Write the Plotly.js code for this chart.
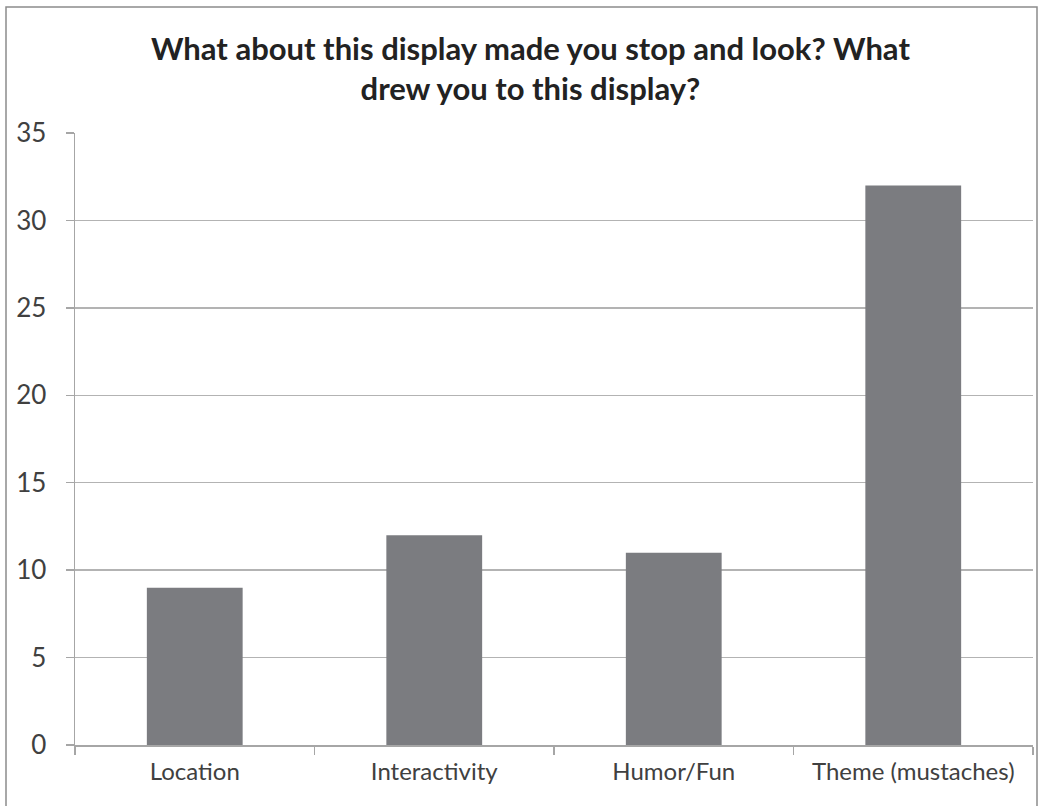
<!DOCTYPE html>
<html>
<head>
<meta charset="utf-8">
<script src="https://cdn.plot.ly/plotly-3.0.1.min.js"></script>
<style>html,body{margin:0;padding:0;background:#fff;}#chart{width:1042px;height:806px;}</style>
</head>
<body>
<div id="chart"></div>
<script>
const categories = ["Location", "Interactivity", "Humor/Fun", "Theme (mustaches)"];
const counts = [9, 12, 11, 32];
const yTicks = [0, 5, 10, 15, 20, 25, 30, 35];
const chartTitle = "What about this display made you stop and look? What<br>drew you to this display?";

const W = 1042, H = 806;
const plotL = 75, plotR = 1033, plotT = 133, plotB = 745;
const fy = v => (plotB - v) / (plotB - plotT);
const fx = v => (v - plotL) / (plotR - plotL);

const data = [{
  type: "bar",
  x: categories,
  y: counts,
  marker: {color: "#7b7c80", line: {width: 0}},
  hoverinfo: "skip"
}];

const layout = {
  width: W, height: H,
  paper_bgcolor: "#fff", plot_bgcolor: "#fff",
  margin: {l: plotL, r: W - plotR, t: plotT, b: H - plotB, pad: 0},
  showlegend: false,
  bargap: 0.6,
  font: {family: "Lato, 'Open Sans', sans-serif", color: "#404040"},
  xaxis: {
    type: "category",
    showgrid: false,
    showline: true, linecolor: "#a6a6a6", linewidth: 1.5,
    ticks: "outside", tickson: "boundaries", ticklen: 8, tickcolor: "#a6a6a6", tickwidth: 1.5,
    ticklabelstandoff: 5,
    tickfont: {size: 24, color: "#404040"},
    zeroline: false, fixedrange: true
  },
  yaxis: {
    range: [0, 35],
    tickvals: yTicks,
    showgrid: true, gridcolor: "#b3b3b3", gridwidth: 1.5,
    showline: true, linecolor: "#a6a6a6", linewidth: 1.5,
    ticks: "outside", ticklen: 8, tickcolor: "#a6a6a6", tickwidth: 1.5,
    ticklabelstandoff: 14,
    tickfont: {size: 26, color: "#404040"},
    zeroline: false, fixedrange: true
  },
  annotations: [{
    text: "<b>" + chartTitle.replace("<br>", "</b><br><b>") + "</b>",
    xref: "paper", yref: "paper",
    x: fx(530), y: fy(68), xanchor: "center", yanchor: "middle",
    showarrow: false,
    font: {family: "Lato, sans-serif", size: 31, color: "#222"}
  }],
  shapes: [{
    type: "rect", xref: "paper", yref: "paper",
    x0: fx(6), x1: fx(1037),
    y0: fy(812), y1: fy(7),
    line: {color: "#8c8c8c", width: 1.5}, fillcolor: "rgba(0,0,0,0)", layer: "below"
  }]
};

Plotly.newPlot("chart", data, layout, {displayModeBar: false, staticPlot: true});
</script>
</body>
</html>
